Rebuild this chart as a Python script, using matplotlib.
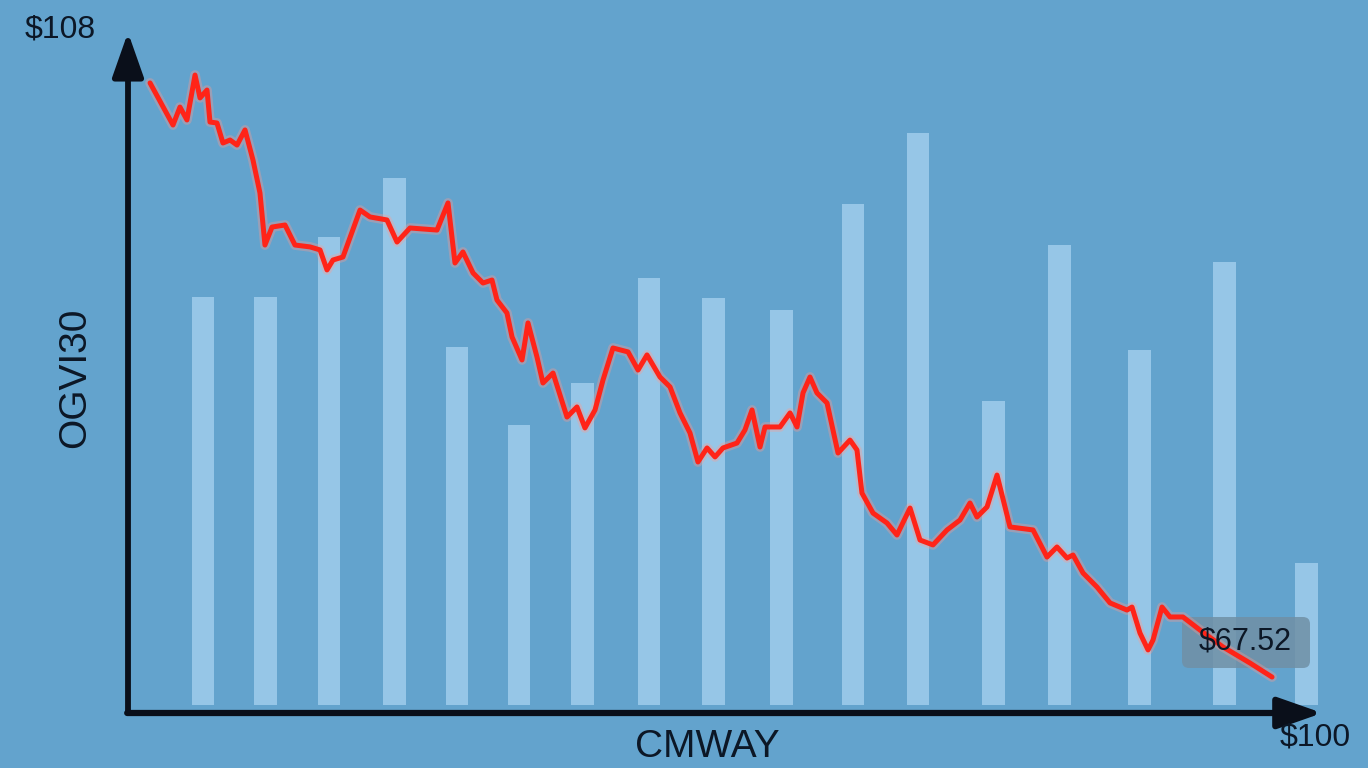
import matplotlib
matplotlib.use("Agg")
import matplotlib.pyplot as plt
from matplotlib.patches import FancyArrowPatch, FancyBboxPatch

# ---------------- data ----------------
days = [2.21, 4.51, 5.21, 5.91, 6.72, 7.22, 7.92, 8.22, 8.92, 9.52, 10.23, 10.93, 11.73, 12.53,
        13.23, 13.73, 14.44, 15.74, 16.74, 18.25, 19.25, 19.95, 20.55, 21.55, 23.26, 24.26,
        25.96, 26.97, 28.27, 30.98, 32.08, 32.78, 33.58, 34.59, 35.59, 36.49, 36.99, 37.99,
        38.50, 39.50, 40.10, 41.00, 41.60, 42.61, 44.01, 45.01, 45.81, 46.82, 47.62, 48.62,
        50.13, 51.13, 52.03, 53.33, 54.34, 55.34, 56.34, 57.14, 58.05, 58.85, 59.65, 61.05,
        61.85, 62.56, 63.36, 63.86, 65.36, 66.37, 67.07, 67.67, 68.37, 69.07, 70.08, 71.18,
        72.38, 73.08, 73.58, 74.69, 76.09, 77.09, 78.40, 79.40, 80.70, 82.11, 83.41, 84.41,
        85.11, 86.12, 87.12, 87.92, 88.42, 90.73, 92.13, 93.13, 94.14, 94.74, 95.74, 97.14,
        98.45, 100.15, 100.65, 101.45, 102.26, 102.76, 103.66, 104.46, 105.76, 107.47,
        109.77, 112.48, 114.69]
price = [104.96, 102.29, 103.43, 102.61, 105.46, 104.01, 104.51, 102.48, 102.42, 101.15,
         101.34, 101.02, 101.98, 100.07, 97.98, 94.68, 95.82, 95.95, 94.68, 94.56, 94.37,
         93.10, 93.73, 93.92, 96.90, 96.46, 96.27, 94.87, 95.76, 95.63, 97.35, 93.54, 94.24,
         92.91, 92.27, 92.46, 91.19, 90.37, 88.85, 87.39, 89.74, 87.58, 85.93, 86.56, 83.77,
         84.41, 83.08, 84.22, 86.12, 88.15, 87.90, 86.75, 87.71, 86.31, 85.68, 84.03, 82.76,
         80.92, 81.81, 81.24, 81.81, 82.12, 82.95, 84.22, 81.87, 83.14, 83.14, 84.03, 83.14,
         85.30, 86.31, 85.30, 84.66, 81.49, 82.31, 81.68, 78.95, 77.68, 77.05, 76.29, 78.00,
         75.97, 75.66, 76.61, 77.24, 78.32, 77.43, 78.07, 80.09, 78.07, 76.80, 76.61, 74.89,
         75.53, 74.83, 75.02, 73.88, 72.99, 71.98, 71.53, 71.72, 70.07, 69.00, 69.63, 71.72,
         71.09, 71.09, 70.26, 69.19, 68.17, 67.28]

bar_days = [7.52, 13.83, 20.15, 26.67, 32.98, 39.20, 45.61, 52.23, 58.65, 65.56, 72.68,
            79.20, 86.72, 93.43, 101.45, 109.97, 118.10]
volume = [40.8, 40.8, 46.8, 52.7, 35.8, 28.0, 32.2, 42.7, 40.7, 39.5, 50.1, 57.2, 30.4,
          46.0, 35.5, 44.3, 14.2]

top_label = "$108"
right_label = "$100"
x_title = "CMWAY"
y_title = "OGVI30"
last_label = "$67.52"

# ---------------- style ----------------
W, H = 1368, 768
BG = "#63a3cd"
BAR = "#9ccaeb"
RED = "#ff2418"
INK = "#0c1726"
FONT = ["Liberation Sans", "DejaVu Sans"]

fig = plt.figure(figsize=(W / 100, H / 100), dpi=100)
fig.patch.set_facecolor(BG)

def fx(px):
    return px / W

def fy(py):
    return 1 - py / H

ax_v = fig.add_axes([fx(128), fy(713), (1325 - 128) / W, (713 - 35) / H])
ax_v.set_facecolor("none")
ax_v.set_xlim(0, 120)
ax_v.set_ylim(-0.8, 67.0)
ax_v.axis("off")

ax_p = ax_v.twinx()
ax_p.set_facecolor("none")
ax_p.set_xlim(0, 120)
ax_p.set_ylim(65, 108)
ax_p.axis("off")

# volume bars
ax_v.bar(bar_days, volume, width=2.3, color=BAR, alpha=0.9, linewidth=0, zorder=2)

# label box (under the line)
box = FancyBboxPatch((11.82, 1.00), 1.28, 0.51,
                     boxstyle="round,pad=0,rounding_size=0.07",
                     transform=fig.dpi_scale_trans, fc="#7090a6", ec="none",
                     alpha=0.85, clip_on=False, zorder=1)
ax_p.add_patch(box)

# price line with soft halo
ax_p.plot(days, price, color="#ff9a90", lw=7, alpha=0.35, solid_joinstyle="round",
          solid_capstyle="round", zorder=3)
ax_p.plot(days, price, color=RED, lw=3.6, solid_joinstyle="round",
          solid_capstyle="round", zorder=4)

# axes arrows
yarrow = FancyArrowPatch((0.0, -0.004), (0.0, 1.008), transform=ax_p.transAxes,
                         arrowstyle="-|>,head_length=27,head_width=9.5",
                         mutation_scale=1, lw=4.2, color="#0a0f1a", clip_on=False, zorder=6)
xarrow = FancyArrowPatch((-0.003, 0.0), (1.0, 0.0), transform=ax_p.transAxes,
                         arrowstyle="-|>,head_length=27,head_width=9.5",
                         mutation_scale=1, lw=4.5, color="#0a0f1a", clip_on=False, zorder=6)
ax_p.add_patch(yarrow)
ax_p.add_patch(xarrow)

# texts
fig.text(fx(60), fy(30), top_label, fontsize=23, color=INK, family=FONT,
         ha="center", va="center")
fig.text(fx(1315), fy(738), right_label, fontsize=23, color=INK, family=FONT,
         ha="center", va="center")
fig.text(fx(707), fy(747), x_title, fontsize=28, color=INK, family=FONT,
         ha="center", va="center")
fig.text(fx(75), fy(378), y_title, fontsize=28, color=INK, family=FONT,
         ha="center", va="center", rotation=90)
fig.text(fx(1245), fy(642), last_label, fontsize=22, color=INK, family=FONT,
         ha="center", va="center", zorder=10)

fig.savefig("out.png", dpi=100, facecolor=BG)
